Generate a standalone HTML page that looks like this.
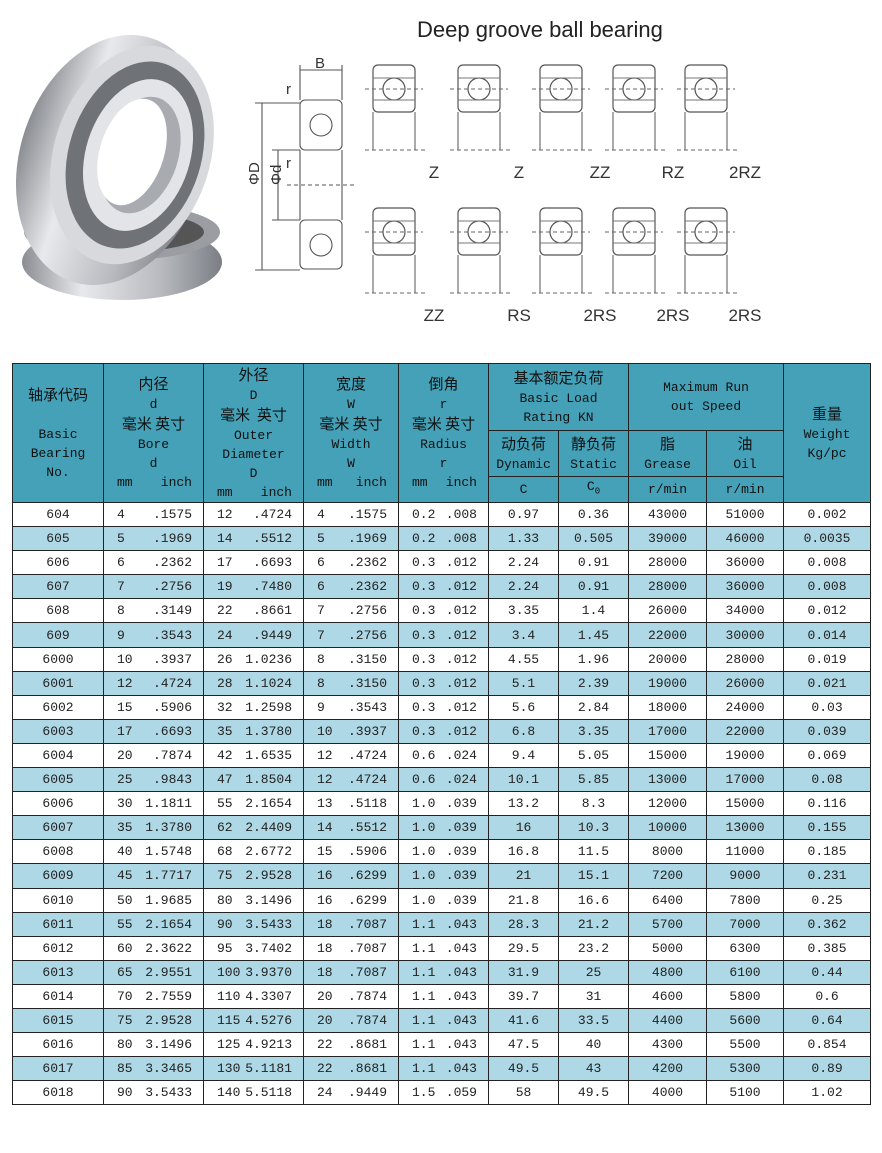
<!DOCTYPE html>
<html><head><meta charset="utf-8"><style>
*{margin:0;padding:0;box-sizing:border-box}
body{width:882px;height:1153px;background:#fff;position:relative;overflow:hidden;font-family:"Liberation Mono","Noto Sans CJK SC",monospace}
table{position:absolute;left:12px;top:363px;border-collapse:collapse;table-layout:fixed;width:858px}
td{border:1px solid #222;text-align:center;font-size:13px;color:#222;height:24.1px;padding:0;white-space:nowrap;line-height:1}
thead td{background:#45a1b7;color:#111;line-height:19px;font-size:13px;vertical-align:middle}
.cj{font-family:"Noto Sans CJK SC",sans-serif;font-size:15px}
tbody tr:nth-child(even) td{background:#aed8e5}
.p{display:flex;justify-content:space-between;padding:0 11px 0 13px}
</style></head><body>
<svg width="882" height="345" style="position:absolute;left:0;top:0">
<defs>
<linearGradient id="g" x1="0" x2="1"><stop offset="0" stop-color="#8a8d92"/><stop offset=".3" stop-color="#e8e9ec"/><stop offset=".7" stop-color="#b7b9be"/><stop offset="1" stop-color="#7b7e84"/></linearGradient>
<g id="b"><rect x="0" y="0" width="42" height="47" rx="5" fill="none" stroke="#555" stroke-width="1.2"/><circle cx="21" cy="24" r="11" fill="none" stroke="#555" stroke-width="1.2"/><line x1="0" y1="13" x2="42" y2="13" stroke="#777"/><line x1="0" y1="35" x2="42" y2="35" stroke="#777"/><line x1="-8" y1="24" x2="50" y2="24" stroke="#666" stroke-dasharray="4,3"/><line x1="0" y1="47" x2="0" y2="85" stroke="#555"/><line x1="42" y1="47" x2="42" y2="85" stroke="#555"/><line x1="-8" y1="85" x2="52" y2="85" stroke="#666" stroke-dasharray="4,3"/></g>
</defs>
<ellipse cx="122" cy="262" rx="100" ry="38" fill="url(#g)"/>
<ellipse cx="122" cy="232" rx="98" ry="28" fill="#9a9da2"/>
<ellipse cx="122" cy="232" rx="82" ry="20" fill="#555"/>
<ellipse cx="112" cy="160" rx="92" ry="128" fill="url(#g)" transform="rotate(18 112 160)"/>
<ellipse cx="132" cy="155" rx="78" ry="112" fill="#d8d9dc" transform="rotate(18 132 155)"/>
<ellipse cx="135" cy="155" rx="66" ry="96" fill="#6f7277" transform="rotate(18 135 155)"/>
<ellipse cx="138" cy="155" rx="52" ry="78" fill="#e3e4e7" transform="rotate(18 138 155)"/>
<ellipse cx="140" cy="155" rx="38" ry="60" fill="#a8abb0" transform="rotate(18 140 155)"/>
<ellipse cx="132" cy="152" rx="32" ry="55" fill="#fff" transform="rotate(18 132 152)"/>
<text x="417" y="37" font-family="Liberation Sans,sans-serif" font-size="22" fill="#222">Deep groove ball bearing</text>
<g stroke="#555" fill="none" stroke-width="1.1">
<rect x="300" y="100" width="42" height="50" rx="5"/><circle cx="321" cy="125" r="11"/>
<rect x="300" y="220" width="42" height="49" rx="5"/><circle cx="321" cy="245" r="11"/>
<line x1="300" y1="150" x2="300" y2="220"/><line x1="342" y1="150" x2="342" y2="220"/>
<line x1="300" y1="70" x2="342" y2="70"/><line x1="300" y1="65" x2="300" y2="100"/><line x1="342" y1="65" x2="342" y2="100"/>
<line x1="255" y1="103" x2="300" y2="103"/><line x1="255" y1="270" x2="300" y2="270"/><line x1="262" y1="103" x2="262" y2="270"/>
<line x1="272" y1="150" x2="300" y2="150"/><line x1="272" y1="220" x2="300" y2="220"/><line x1="278" y1="150" x2="278" y2="220"/>
<line x1="287" y1="185" x2="355" y2="185" stroke-dasharray="4,3"/>
</g>
<g font-family="Liberation Sans,sans-serif" font-size="15" fill="#333">
<text x="315" y="68">B</text><text x="286" y="94">r</text><text x="286" y="168">r</text>
<text x="252" y="192" transform="rotate(-90 252 185)">ΦD</text><text x="274" y="192" transform="rotate(-90 274 185)">Φd</text>
</g>
<use href="#b" x="373" y="65"/><use href="#b" x="458" y="65"/><use href="#b" x="540" y="65"/><use href="#b" x="613" y="65"/><use href="#b" x="685" y="65"/>
<use href="#b" x="373" y="208"/><use href="#b" x="458" y="208"/><use href="#b" x="540" y="208"/><use href="#b" x="613" y="208"/><use href="#b" x="685" y="208"/>
<g font-family="Liberation Sans,sans-serif" font-size="17" fill="#333" text-anchor="middle">
<text x="434" y="178">Z</text><text x="519" y="178">Z</text><text x="600" y="178">ZZ</text><text x="673" y="178">RZ</text><text x="745" y="178">2RZ</text>
<text x="434" y="321">ZZ</text><text x="519" y="321">RS</text><text x="600" y="321">2RS</text><text x="673" y="321">2RS</text><text x="745" y="321">2RS</text>
</g>
</svg>
<table>
<colgroup><col style="width:91px"><col style="width:100px"><col style="width:100px"><col style="width:95px"><col style="width:90px"><col style="width:70px"><col style="width:70px"><col style="width:78px"><col style="width:77px"><col style="width:87px"></colgroup>
<thead>
<tr><td rowspan="3" style="height:139px"><span class="cj">轴承代码</span><br><br>Basic<br>Bearing<br>No.</td>
<td rowspan="3"><span class="cj">内径</span><br>d<br><span class="cj">毫米 英寸</span><br>Bore<br>d<div class="p"><span>mm</span><span>inch</span></div></td>
<td rowspan="3"><span class="cj">外径</span><br>D<br><span class="cj">毫米&nbsp; 英寸</span><br>Outer<br>Diameter<br>D<div class="p"><span>mm</span><span>inch</span></div></td>
<td rowspan="3"><span class="cj">宽度</span><br>W<br><span class="cj">毫米 英寸</span><br>Width<br>W<div class="p"><span>mm</span><span>inch</span></div></td>
<td rowspan="3"><span class="cj">倒角</span><br>r<br><span class="cj">毫米 英寸</span><br>Radius<br>r<div class="p"><span>mm</span><span>inch</span></div></td>
<td colspan="2" style="height:67px"><span class="cj">基本额定负荷</span><br>Basic Load<br>Rating KN</td>
<td colspan="2">Maximum Run<br>out Speed</td>
<td rowspan="3"><span class="cj">重量</span><br>Weight<br>Kg/pc</td></tr>
<tr><td style="height:46px"><span class="cj">动负荷</span><br>Dynamic</td><td><span class="cj">静负荷</span><br>Static</td><td><span class="cj">脂</span><br>Grease</td><td><span class="cj">油</span><br>Oil</td></tr>
<tr><td style="height:26px">C</td><td>C<sub style="font-size:9px">0</sub></td><td>r/min</td><td>r/min</td></tr>
</thead>
<tbody>
<tr><td>604</td><td><div class="p"><span>4</span><span>.1575</span></div></td><td><div class="p"><span>12</span><span>.4724</span></div></td><td><div class="p"><span>4</span><span>.1575</span></div></td><td><div class="p"><span>0.2</span><span>.008</span></div></td><td>0.97</td><td>0.36</td><td>43000</td><td>51000</td><td>0.002</td></tr>
<tr><td>605</td><td><div class="p"><span>5</span><span>.1969</span></div></td><td><div class="p"><span>14</span><span>.5512</span></div></td><td><div class="p"><span>5</span><span>.1969</span></div></td><td><div class="p"><span>0.2</span><span>.008</span></div></td><td>1.33</td><td>0.505</td><td>39000</td><td>46000</td><td>0.0035</td></tr>
<tr><td>606</td><td><div class="p"><span>6</span><span>.2362</span></div></td><td><div class="p"><span>17</span><span>.6693</span></div></td><td><div class="p"><span>6</span><span>.2362</span></div></td><td><div class="p"><span>0.3</span><span>.012</span></div></td><td>2.24</td><td>0.91</td><td>28000</td><td>36000</td><td>0.008</td></tr>
<tr><td>607</td><td><div class="p"><span>7</span><span>.2756</span></div></td><td><div class="p"><span>19</span><span>.7480</span></div></td><td><div class="p"><span>6</span><span>.2362</span></div></td><td><div class="p"><span>0.3</span><span>.012</span></div></td><td>2.24</td><td>0.91</td><td>28000</td><td>36000</td><td>0.008</td></tr>
<tr><td>608</td><td><div class="p"><span>8</span><span>.3149</span></div></td><td><div class="p"><span>22</span><span>.8661</span></div></td><td><div class="p"><span>7</span><span>.2756</span></div></td><td><div class="p"><span>0.3</span><span>.012</span></div></td><td>3.35</td><td>1.4</td><td>26000</td><td>34000</td><td>0.012</td></tr>
<tr><td>609</td><td><div class="p"><span>9</span><span>.3543</span></div></td><td><div class="p"><span>24</span><span>.9449</span></div></td><td><div class="p"><span>7</span><span>.2756</span></div></td><td><div class="p"><span>0.3</span><span>.012</span></div></td><td>3.4</td><td>1.45</td><td>22000</td><td>30000</td><td>0.014</td></tr>
<tr><td>6000</td><td><div class="p"><span>10</span><span>.3937</span></div></td><td><div class="p"><span>26</span><span>1.0236</span></div></td><td><div class="p"><span>8</span><span>.3150</span></div></td><td><div class="p"><span>0.3</span><span>.012</span></div></td><td>4.55</td><td>1.96</td><td>20000</td><td>28000</td><td>0.019</td></tr>
<tr><td>6001</td><td><div class="p"><span>12</span><span>.4724</span></div></td><td><div class="p"><span>28</span><span>1.1024</span></div></td><td><div class="p"><span>8</span><span>.3150</span></div></td><td><div class="p"><span>0.3</span><span>.012</span></div></td><td>5.1</td><td>2.39</td><td>19000</td><td>26000</td><td>0.021</td></tr>
<tr><td>6002</td><td><div class="p"><span>15</span><span>.5906</span></div></td><td><div class="p"><span>32</span><span>1.2598</span></div></td><td><div class="p"><span>9</span><span>.3543</span></div></td><td><div class="p"><span>0.3</span><span>.012</span></div></td><td>5.6</td><td>2.84</td><td>18000</td><td>24000</td><td>0.03</td></tr>
<tr><td>6003</td><td><div class="p"><span>17</span><span>.6693</span></div></td><td><div class="p"><span>35</span><span>1.3780</span></div></td><td><div class="p"><span>10</span><span>.3937</span></div></td><td><div class="p"><span>0.3</span><span>.012</span></div></td><td>6.8</td><td>3.35</td><td>17000</td><td>22000</td><td>0.039</td></tr>
<tr><td>6004</td><td><div class="p"><span>20</span><span>.7874</span></div></td><td><div class="p"><span>42</span><span>1.6535</span></div></td><td><div class="p"><span>12</span><span>.4724</span></div></td><td><div class="p"><span>0.6</span><span>.024</span></div></td><td>9.4</td><td>5.05</td><td>15000</td><td>19000</td><td>0.069</td></tr>
<tr><td>6005</td><td><div class="p"><span>25</span><span>.9843</span></div></td><td><div class="p"><span>47</span><span>1.8504</span></div></td><td><div class="p"><span>12</span><span>.4724</span></div></td><td><div class="p"><span>0.6</span><span>.024</span></div></td><td>10.1</td><td>5.85</td><td>13000</td><td>17000</td><td>0.08</td></tr>
<tr><td>6006</td><td><div class="p"><span>30</span><span>1.1811</span></div></td><td><div class="p"><span>55</span><span>2.1654</span></div></td><td><div class="p"><span>13</span><span>.5118</span></div></td><td><div class="p"><span>1.0</span><span>.039</span></div></td><td>13.2</td><td>8.3</td><td>12000</td><td>15000</td><td>0.116</td></tr>
<tr><td>6007</td><td><div class="p"><span>35</span><span>1.3780</span></div></td><td><div class="p"><span>62</span><span>2.4409</span></div></td><td><div class="p"><span>14</span><span>.5512</span></div></td><td><div class="p"><span>1.0</span><span>.039</span></div></td><td>16</td><td>10.3</td><td>10000</td><td>13000</td><td>0.155</td></tr>
<tr><td>6008</td><td><div class="p"><span>40</span><span>1.5748</span></div></td><td><div class="p"><span>68</span><span>2.6772</span></div></td><td><div class="p"><span>15</span><span>.5906</span></div></td><td><div class="p"><span>1.0</span><span>.039</span></div></td><td>16.8</td><td>11.5</td><td>8000</td><td>11000</td><td>0.185</td></tr>
<tr><td>6009</td><td><div class="p"><span>45</span><span>1.7717</span></div></td><td><div class="p"><span>75</span><span>2.9528</span></div></td><td><div class="p"><span>16</span><span>.6299</span></div></td><td><div class="p"><span>1.0</span><span>.039</span></div></td><td>21</td><td>15.1</td><td>7200</td><td>9000</td><td>0.231</td></tr>
<tr><td>6010</td><td><div class="p"><span>50</span><span>1.9685</span></div></td><td><div class="p"><span>80</span><span>3.1496</span></div></td><td><div class="p"><span>16</span><span>.6299</span></div></td><td><div class="p"><span>1.0</span><span>.039</span></div></td><td>21.8</td><td>16.6</td><td>6400</td><td>7800</td><td>0.25</td></tr>
<tr><td>6011</td><td><div class="p"><span>55</span><span>2.1654</span></div></td><td><div class="p"><span>90</span><span>3.5433</span></div></td><td><div class="p"><span>18</span><span>.7087</span></div></td><td><div class="p"><span>1.1</span><span>.043</span></div></td><td>28.3</td><td>21.2</td><td>5700</td><td>7000</td><td>0.362</td></tr>
<tr><td>6012</td><td><div class="p"><span>60</span><span>2.3622</span></div></td><td><div class="p"><span>95</span><span>3.7402</span></div></td><td><div class="p"><span>18</span><span>.7087</span></div></td><td><div class="p"><span>1.1</span><span>.043</span></div></td><td>29.5</td><td>23.2</td><td>5000</td><td>6300</td><td>0.385</td></tr>
<tr><td>6013</td><td><div class="p"><span>65</span><span>2.9551</span></div></td><td><div class="p"><span>100</span><span>3.9370</span></div></td><td><div class="p"><span>18</span><span>.7087</span></div></td><td><div class="p"><span>1.1</span><span>.043</span></div></td><td>31.9</td><td>25</td><td>4800</td><td>6100</td><td>0.44</td></tr>
<tr><td>6014</td><td><div class="p"><span>70</span><span>2.7559</span></div></td><td><div class="p"><span>110</span><span>4.3307</span></div></td><td><div class="p"><span>20</span><span>.7874</span></div></td><td><div class="p"><span>1.1</span><span>.043</span></div></td><td>39.7</td><td>31</td><td>4600</td><td>5800</td><td>0.6</td></tr>
<tr><td>6015</td><td><div class="p"><span>75</span><span>2.9528</span></div></td><td><div class="p"><span>115</span><span>4.5276</span></div></td><td><div class="p"><span>20</span><span>.7874</span></div></td><td><div class="p"><span>1.1</span><span>.043</span></div></td><td>41.6</td><td>33.5</td><td>4400</td><td>5600</td><td>0.64</td></tr>
<tr><td>6016</td><td><div class="p"><span>80</span><span>3.1496</span></div></td><td><div class="p"><span>125</span><span>4.9213</span></div></td><td><div class="p"><span>22</span><span>.8681</span></div></td><td><div class="p"><span>1.1</span><span>.043</span></div></td><td>47.5</td><td>40</td><td>4300</td><td>5500</td><td>0.854</td></tr>
<tr><td>6017</td><td><div class="p"><span>85</span><span>3.3465</span></div></td><td><div class="p"><span>130</span><span>5.1181</span></div></td><td><div class="p"><span>22</span><span>.8681</span></div></td><td><div class="p"><span>1.1</span><span>.043</span></div></td><td>49.5</td><td>43</td><td>4200</td><td>5300</td><td>0.89</td></tr>
<tr><td>6018</td><td><div class="p"><span>90</span><span>3.5433</span></div></td><td><div class="p"><span>140</span><span>5.5118</span></div></td><td><div class="p"><span>24</span><span>.9449</span></div></td><td><div class="p"><span>1.5</span><span>.059</span></div></td><td>58</td><td>49.5</td><td>4000</td><td>5100</td><td>1.02</td></tr>
</tbody>
</table>
</body></html>
